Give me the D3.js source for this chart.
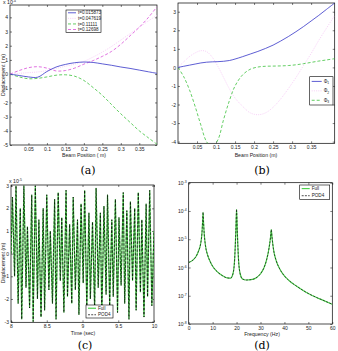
<!DOCTYPE html>
<html lang="en">
<head>
<meta charset="UTF-8">
<title>Beam POD figure</title>
<script src="https://d3js.org/d3.v7.min.js"></script>
<style>
  body { margin: 0; background: #fff; }
  svg { display: block; font-family: "Liberation Sans", Arial, sans-serif; }
  .tick text { font-size: 5px; fill: #222; }
  .tick line { stroke: #000; stroke-width: 0.5; }
  .axis-label { font-size: 5.2px; fill: #222; }
  .leg text { font-size: 4.6px; fill: #222; }
  .caption { font-family: "DejaVu Serif", serif; font-size: 11px; }
</style>
</head>
<body>
<svg width="338" height="351"></svg>
<script>
// ---- data (a): deflection snapshots, x 10^-4 ----
const beamPosA = [0, 0.025, 0.05, 0.075, 0.1, 0.125, 0.15, 0.175, 0.2, 0.225, 0.25, 0.275, 0.3, 0.325, 0.35, 0.375, 0.398];
const snapT1 = [0, -0.1, -0.2, -0.22, 0.18, 0.5, 0.68, 0.8, 0.85, 0.82, 0.72, 0.62, 0.5, 0.4, 0.28, 0.16, 0.05];
const snapT2 = [0, 0.05, 0.1, 0.15, 0.25, 0.4, 0.55, 0.7, 0.9, 1.2, 1.55, 1.95, 2.4, 2.85, 3.3, 3.75, 4.15];
const snapT3 = [0, -0.2, -0.33, -0.3, -0.2, -0.08, -0.05, -0.15, -0.45, -0.95, -1.5, -2.15, -2.8, -3.4, -4.0, -4.5, -4.95];
const snapT4 = [0, 0.25, 0.45, 0.52, 0.42, 0.22, 0.25, 0.42, 0.7, 0.95, 1.25, 1.6, 2.1, 2.7, 3.3, 4.0, 4.75];
const snapLabels = ["t=0.015873", "t=0.047619", "t=0.11111", "t=0.12698"];

// ---- data (b): POD modes ----
const beamPosB = [0, 0.015, 0.03, 0.045, 0.06, 0.075, 0.09, 0.105, 0.12, 0.135, 0.15, 0.17, 0.19, 0.21, 0.23, 0.25, 0.27, 0.29, 0.31, 0.33, 0.35, 0.37, 0.39, 0.412];
const phi1 = [0, 0.06, 0.12, 0.18, 0.24, 0.28, 0.3, 0.31, 0.33, 0.37, 0.45, 0.58, 0.72, 0.86, 1.02, 1.2, 1.42, 1.66, 1.92, 2.2, 2.5, 2.8, 3.12, 3.47];
const phi2 = [0, 0.3, 0.58, 0.78, 0.9, 0.85, 0.55, 0.05, -0.55, -1.15, -1.65, -2.1, -2.45, -2.55, -2.45, -2.15, -1.7, -1.15, -0.55, 0.1, 0.75, 1.45, 2.1, 2.8];
const phi3 = [0, -0.5, -1.2, -2.1, -3.1, -4.0, -4.3, -3.9, -2.8, -1.8, -1.0, -0.4, -0.1, 0.02, 0.06, 0.07, 0.08, 0.1, 0.14, 0.2, 0.27, 0.34, 0.4, 0.47];

// ---- data (c): tip displacement, x 10^-5 ----
const timeC = [8.00, 8.02, 8.05, 8.07, 8.10, 8.13, 8.15, 8.18, 8.21, 8.23, 8.26, 8.29, 8.31, 8.34, 8.37, 8.39, 8.42, 8.45, 8.47, 8.50,
  8.53, 8.55, 8.58, 8.61, 8.63, 8.66, 8.69, 8.71, 8.74, 8.77, 8.79, 8.82, 8.85, 8.87, 8.90, 8.93, 8.95, 8.98, 9.01, 9.03,
  9.06, 9.09, 9.11, 9.14, 9.17, 9.19, 9.22, 9.25, 9.27, 9.30, 9.33, 9.35, 9.38, 9.41, 9.43, 9.46, 9.49, 9.51, 9.54, 9.57,
  9.59, 9.62, 9.65, 9.67, 9.70, 9.73, 9.75, 9.78, 9.81, 9.83, 9.86, 9.89, 9.91, 9.94, 9.97, 10.0];
const dispC = [0.0, 2.5, -1.0, 3.0, -2.2, 2.0, -2.9, 3.0, -1.5, 1.2, -2.4, 2.6, -3.0, 3.0, -2.0, 1.5, -2.8, 2.0, -2.5, 2.6,
  -1.6, 1.0, -2.2, 2.4, -2.9, 2.7, -1.2, 1.6, -2.6, 2.8, -1.9, 1.3, -2.2, 2.5, -1.6, 1.5, -2.7, 2.2, -1.3, 2.8,
  -2.4, 1.8, -2.0, 1.4, -2.5, 2.9, -1.5, 1.8, -2.8, 2.1, -1.8, 2.6, -2.3, 1.5, -1.9, 2.4, -2.6, 1.6, -1.4, 2.7,
  -2.2, 1.9, -2.9, 2.3, -1.2, 2.0, -2.5, 2.7, -1.7, 1.5, -2.8, 2.2, -1.9, 2.8, -2.3, 1.0];

// ---- data (d): frequency response ----
const freqD = [0, 2, 3, 4, 5, 5.5, 5.8, 6.0, 6.2, 6.5, 7, 8, 9, 10, 12, 14, 16, 17.5, 18.5, 19.2, 19.7, 20, 20.3, 20.8, 21.5,
  22.5, 24, 26, 28, 30, 31.5, 32.5, 33.5, 34.2, 34.5, 34.8, 35.5, 36.5, 38, 40, 42, 45, 48, 50, 53, 56, 60];
const ampD = [1.5e-6, 1.9e-6, 2.4e-6, 3.6e-6, 7e-6, 1.5e-5, 4e-5, 9e-5, 4e-5, 1.5e-5, 6e-6, 2.6e-6, 1.6e-6, 1.1e-6, 7e-7, 5.2e-7, 4.3e-7, 4.2e-7, 6e-7, 2e-6, 2e-5, 1.15e-4, 2e-5, 2e-6, 6e-7,
  3.9e-7, 3.6e-7, 3.7e-7, 4.2e-7, 6e-7, 1e-6, 1.8e-6, 4.5e-6, 1.2e-5, 2.2e-5, 1.2e-5, 4e-6, 1.8e-6, 9e-7, 5e-7, 3.4e-7, 2.2e-7, 1.5e-7, 1.2e-7, 9e-8, 7e-8, 5e-8];
const decadesD = [-8, -7, -6, -5, -4, -3];

const svg = d3.select("svg");
let clipN = 0;

function panel(o) {
    const g = svg.append("g");
    const x = d3.scaleLinear().domain(o.xDomain).range([o.l, o.r]);
    const y = (o.yLog ? d3.scaleLog() : d3.scaleLinear()).domain(o.yDomain).range([o.b, o.t]);
    const id = "clip" + (clipN++);
    svg.append("clipPath").attr("id", id).append("rect")
        .attr("x", o.l).attr("y", o.t).attr("width", o.r - o.l).attr("height", o.b - o.t);

    const fmt = d => d;
    g.append("g").attr("transform", `translate(0,${o.b})`)
        .call(d3.axisBottom(x).tickValues(o.xTicks).tickSizeInner(-2).tickSizeOuter(0).tickPadding(2).tickFormat(fmt));
    g.append("g").attr("transform", `translate(0,${o.t})`)
        .call(d3.axisTop(x).tickValues(o.xTicks).tickSizeInner(-2).tickSizeOuter(0).tickFormat(""));
    const left = g.append("g").attr("transform", `translate(${o.l},0)`)
        .call(d3.axisLeft(y).tickValues(o.yTicks).tickSizeInner(-2).tickSizeOuter(0).tickPadding(2).tickFormat(fmt));
    g.append("g").attr("transform", `translate(${o.r},0)`)
        .call(d3.axisRight(y).tickValues(o.yTicks).tickSizeInner(-2).tickSizeOuter(0).tickFormat(""));
    g.selectAll(".domain").remove();

    if (o.yLog) {
        left.selectAll(".tick text").each(function(d) {
            const t = d3.select(this).text(null);
            t.append("tspan").text("10");
            t.append("tspan").attr("dy", -2).attr("font-size", "3.5px").text(Math.round(Math.log10(d)));
        });
    }

    g.append("rect").attr("x", o.l).attr("y", o.t).attr("width", o.r - o.l).attr("height", o.b - o.t)
        .attr("fill", "none").attr("stroke", "#000").attr("stroke-width", 0.7);

    return { g, x, y, clip: `url(#${id})` };
}

function drawLine(p, xs, ys, st, curve) {
    p.g.append("path")
        .datum(xs.map((v, i) => [v, ys[i]]))
        .attr("clip-path", p.clip)
        .attr("fill", "none")
        .attr("stroke", st.color)
        .attr("stroke-width", st.width || 0.8)
        .attr("stroke-dasharray", st.dash || null)
        .attr("d", d3.line().x(d => p.x(d[0])).y(d => p.y(d[1])).curve(curve || d3.curveCatmullRom));
}

function legend(x0, y0, w, h, items, opt) {
    const g = svg.append("g").attr("class", "leg");
    g.append("rect").attr("x", x0).attr("y", y0).attr("width", w).attr("height", h)
        .attr("fill", "#fff").attr("stroke", "#000").attr("stroke-width", 0.6);
    const step = h / items.length;
    items.forEach((it, i) => {
        const cy = y0 + step * (i + 0.5);
        g.append("line").attr("x1", x0 + 2).attr("x2", x0 + 2 + opt.len).attr("y1", cy).attr("y2", cy)
            .attr("stroke", it.color).attr("stroke-width", it.width || 0.8).attr("stroke-dasharray", it.dash || null);
        const t = g.append("text").attr("x", x0 + 4 + opt.len).attr("y", cy + 1.6);
        t.append("tspan").text(it.label);
        if (it.sub) t.append("tspan").attr("dy", 1.2).attr("font-size", "3.3px").text(it.sub);
    });
}

function label(x, y, txt, rot) {
    const t = svg.append("text").attr("class", "axis-label").attr("text-anchor", "middle").text(txt);
    if (rot) t.attr("transform", `translate(${x},${y}) rotate(-90)`);
    else t.attr("x", x).attr("y", y);
}

function expLabel(x, y, e) {
    const t = svg.append("text").attr("class", "axis-label").attr("x", x).attr("y", y);
    t.append("tspan").text("x 10");
    t.append("tspan").attr("dy", -2).attr("font-size", "3.5px").text(e);
}

function caption(x, y, txt) {
    svg.append("text").attr("class", "caption").attr("x", x).attr("y", y).attr("text-anchor", "middle").text(txt);
}

const posTicks = [0.05, 0.1, 0.15, 0.2, 0.25, 0.3, 0.35];
const blue = "#3535c8", pinkDot = "#f4bcf4", magenta = "#d94fd9", green = "#3cc23c", lightGreen = "#4fd14f";

// (a)
const pa = panel({ l: 10, r: 157, t: 5, b: 145, xDomain: [0, 0.398], yDomain: [-5, 4.87],
    xTicks: posTicks, yTicks: [-5, -4, -3, -2, -1, 0, 1, 2, 3, 4] });
drawLine(pa, beamPosA, snapT2, { color: pinkDot, dash: "1,1.2", width: 0.7 });
drawLine(pa, beamPosA, snapT3, { color: green, dash: "3,2" });
drawLine(pa, beamPosA, snapT4, { color: magenta, dash: "3,2" });
drawLine(pa, beamPosA, snapT1, { color: blue });
legend(66, 10, 35, 22.3, [
    { label: snapLabels[0], color: blue },
    { label: snapLabels[1], color: pinkDot, dash: "1,1.2", width: 0.7 },
    { label: snapLabels[2], color: green, dash: "3,2" },
    { label: snapLabels[3], color: magenta, dash: "3,2" }
], { len: 8 });
expLabel(3, 3.5, "-4");
label(4.5, 75, "Displacement ( m)", true);
label(84, 157, "Beam Position ( m)");
caption(88, 174, "(a)");

// (b)
const pb = panel({ l: 178, r: 334.7, t: 3, b: 143.3, xDomain: [0, 0.412], yDomain: [-4.09, 3.47],
    xTicks: posTicks, yTicks: [-4, -3, -2, -1, 0, 1, 2, 3] });
drawLine(pb, beamPosB, phi2, { color: pinkDot, dash: "1,1.2", width: 0.7 });
drawLine(pb, beamPosB, phi3, { color: green, dash: "3,2" });
drawLine(pb, beamPosB, phi1, { color: blue });
legend(309.7, 76.7, 23.3, 28.3, [
    { label: "Φ", sub: "1", color: blue },
    { label: "Φ", sub: "2", color: pinkDot, dash: "1,1.2", width: 0.7 },
    { label: "Φ", sub: "3", color: green, dash: "3,2" }
], { len: 10 });
label(256, 157, "Beam Position (m)");
caption(262, 174, "(b)");

// (c)
const pc = panel({ l: 11, r: 154, t: 185, b: 322.3, xDomain: [8, 10], yDomain: [-3.03, 3.03],
    xTicks: [8, 8.5, 9, 9.5, 10], yTicks: [-3, -2, -1, 0, 1, 2, 3] });
drawLine(pc, timeC, dispC, { color: lightGreen, width: 1.2 }, d3.curveLinear);
drawLine(pc, timeC, dispC, { color: "#000", dash: "2.5,1.5", width: 0.7 }, d3.curveLinear);
legend(86, 305, 27, 13, [
    { label: "Full", color: lightGreen, width: 1.2 },
    { label: "POD4", color: "#000", dash: "2,1.2", width: 0.7 }
], { len: 8 });
expLabel(9, 183, "-5");
label(4.5, 263, "Displacement (m)", true);
label(83, 335, "Time (sec)");
caption(85, 349, "(c)");

// (d)
const pd = panel({ l: 188.7, r: 332.3, t: 182.7, b: 324, yLog: true, xDomain: [0, 60], yDomain: [1e-8, 1e-3],
    xTicks: [0, 10, 20, 30, 40, 50, 60], yTicks: decadesD.map(e => Math.pow(10, e)) });
drawLine(pd, freqD, ampD, { color: lightGreen, width: 1.2 }, d3.curveMonotoneX);
drawLine(pd, freqD, ampD, { color: "#000", dash: "2,1.5", width: 0.6 }, d3.curveMonotoneX);
legend(299.7, 185, 30, 14.3, [
    { label: "Full", color: lightGreen, width: 1.2 },
    { label: "POD4", color: "#000", dash: "2,1.2", width: 0.7 }
], { len: 8 });
label(262, 336, "Frequency (Hz)");
caption(262, 348.5, "(d)");
</script>
</body>
</html>
